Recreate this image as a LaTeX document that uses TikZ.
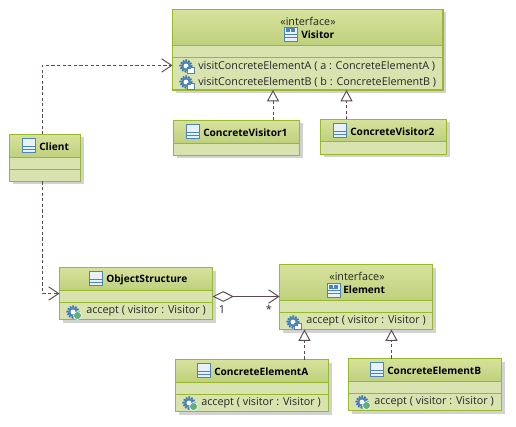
\documentclass[tikz,border=0pt]{standalone}
\usepackage{fontspec}
\setmainfont{Open Sans}
\usetikzlibrary{arrows.meta}
\definecolor{boxline}{HTML}{97B82F}
\definecolor{boxbody}{HTML}{D9E3B0}
\definecolor{headtop}{HTML}{D7E29C}
\definecolor{headbot}{HTML}{BED07C}
\definecolor{boxshadow}{HTML}{D2D2D2}
\definecolor{conn}{HTML}{5A4A55}
\definecolor{iconblue}{HTML}{4A85BE}
\definecolor{iconfill}{HTML}{E8F0FA}
\definecolor{icongreen}{HTML}{5DB07A}
\tikzset{
  x=0.75pt,y=-0.75pt,
  umlbox/.style={rectangle,draw=boxline,fill=boxbody,line width=1pt,inner sep=0pt,outer sep=0pt},
  divider/.style={draw=boxline,line width=0.8pt},
  dep/.style={draw=conn,line width=0.7pt,dash pattern=on 2.4pt off 1.8pt},
  assoc/.style={draw=conn,line width=0.8pt},
  openhead/.style={-{Straight Barb[length=7.5pt,width=10pt,line width=0.7pt,color=conn]}},
  realize/.style={dep,-{Triangle[open,length=8.5pt,width=9pt,line width=0.7pt,fill=white,color=conn]}},
  agg/.style={assoc,{Diamond[open,length=16pt,width=8pt,line width=0.7pt,fill=white,color=conn]}-{Straight Barb[length=7.5pt,width=10pt,line width=0.7pt,color=conn]}},
  stereo/.style={font=\fontsize{8.1}{10}\selectfont,inner sep=0pt,text=black!85},
  cname/.style={font=\fontsize{7.6}{10}\selectfont\bfseries,inner sep=0pt,anchor=west},
  member/.style={font=\fontsize{8.1}{10}\selectfont,inner sep=0pt,anchor=west,text=black!85},
  mult/.style={font=\fontsize{8.2}{10}\selectfont,inner sep=0pt,text=black!85},
  classicon/.pic={
    \draw[iconblue,fill=iconfill,line width=0.7pt] (0,0) rectangle (13,14);
    \draw[iconblue,line width=0.7pt] (0,8) -- (13,8) (0,11) -- (13,11);
  },
  ifaceicon/.pic={
    \draw[iconblue,fill=iconfill,line width=0.7pt] (0,0) rectangle (13,14);
    \draw[iconblue,line width=0.7pt] (0,7) -- (13,7) (0,10.5) -- (13,10.5);
    \fill[iconblue] (2,1.5) rectangle (11,5.5);
    \fill[white] (6,2.2) rectangle (7,4.8);
  },
  gear/.pic={
    \draw[iconblue!85!black,line width=1.6pt,dash pattern=on 1.2pt off 0.9pt] (0,0) circle (5.6);
    \fill[iconblue] (0,0) circle (5);
    \fill[white] (0,0) circle (2.4);
  },
  gearpub/.pic={
    \pic {gear};
    \fill[icongreen,draw=white,line width=0.4pt] (4.5,3.5) circle (4);
  },
  gearabs/.pic={
    \pic {gear};
    \draw[iconblue,fill=white,line width=0.7pt] (1.5,1) rectangle (8.5,7.5);
    \fill[iconblue] (1.5,1) rectangle (5,3.5);
  },
}
% name, x0, y0, x1, y1, y of the header's lower edge
\newcommand{\umlclass}[6]{%
  \pgfmathsetmacro{\bw}{(#4-#2)*0.75}%
  \pgfmathsetmacro{\bh}{(#5-#3)*0.75}%
  \pgfmathsetmacro{\bcx}{(#2+#4)/2}%
  \pgfmathsetmacro{\bcy}{(#3+#5)/2}%
  \fill[boxshadow] (#2+3,#3+3) rectangle (#4+3,#5+3);
  \node[umlbox,minimum width=\bw pt,minimum height=\bh pt] (#1) at (\bcx,\bcy) {};
  \shade[top color=headtop,bottom color=headbot] (#1.north west) rectangle (#1.east |- 0,#6);
  \draw[divider] (#1.west |- 0,#6) -- (#1.east |- 0,#6);
  \draw[boxline,line width=1pt] (#1.north west) rectangle (#1.south east);
}
\newcommand{\compart}[2]{\draw[divider] (#1.west |- 0,#2) -- (#1.east |- 0,#2);}
\begin{document}
\begin{tikzpicture}
\useasboundingbox (0,0) rectangle (516,427);

% Classes
\umlclass{visitor}{172.5}{9.5}{443}{90}{45.5}
\compart{visitor}{57.5}
\umlclass{cvone}{173.5}{120.5}{299.5}{155.5}{143.5}
\umlclass{cvtwo}{320.5}{119.5}{446.5}{154.5}{141.5}
\umlclass{client}{9.5}{134.5}{80.5}{181.5}{157.5}
\compart{client}{169.5}
\umlclass{objstruct}{59.5}{267.5}{212.5}{319.5}{290.5}
\compart{objstruct}{302.5}
\umlclass{element}{279.5}{264.5}{432.5}{329.5}{300.5}
\compart{element}{312.5}
\umlclass{cea}{175.5}{359.5}{328.5}{411.5}{382.5}
\compart{cea}{394.5}
\umlclass{ceb}{348.5}{358.5}{501.5}{410.5}{381.5}
\compart{ceb}{393.5}

% Icons
\pic at (284,27) {ifaceicon};
\pic at (186,124) {classicon};
\pic at (333,123) {classicon};
\pic at (22,138) {classicon};
\pic at (89,271) {classicon};
\pic at (327,283) {ifaceicon};
\pic at (197,363) {classicon};
\pic at (370,362) {classicon};
\pic at (186,66) {gearabs};
\pic at (186,82) {gearabs};
\pic at (73,312) {gearpub};
\pic at (293,322) {gearabs};
\pic at (189,403) {gearpub};
\pic at (362,402) {gearpub};

% Text
\node[stereo] (visitorst) at (308,21) {«interface»};
\node[cname] (visitorname) at (301,34.5) {Visitor};
\node[member] (visitora) at (198,66) {visitConcreteElementA ( a : ConcreteElementA )};
\node[member] (visitorb) at (198,82) {visitConcreteElementB ( b : ConcreteElementB )};
\node[cname] (cvonename) at (203,132.5) {ConcreteVisitor1};
\node[cname] (cvtwoname) at (350,131.5) {ConcreteVisitor2};
\node[cname] (clientname) at (39,146.5) {Client};
\node[cname] (osname) at (106,279.5) {ObjectStructure};
\node[member] (osop) at (86,311) {accept ( visitor : Visitor )};
\node[stereo] (elementst) at (357,276) {«interface»};
\node[cname] (elementname) at (343,289.5) {Element};
\node[member] (elementop) at (306,321) {accept ( visitor : Visitor )};
\node[cname] (ceaname) at (214,371.5) {ConcreteElementA};
\node[member] (ceaop) at (201,403) {accept ( visitor : Visitor )};
\node[cname] (cebname) at (387,370.5) {ConcreteElementB};
\node[member] (cebop) at (374,402) {accept ( visitor : Visitor )};
\node[mult] (multone) at (222,310) {1};
\node[mult] (multmany) at (269,309) {*};

% Connectors
\coordinate (bendtop) at (42,65.5);
\coordinate (bendbot) at (42.5,293.5);
\coordinate (aggy) at (0,296.5);
\coordinate (cvonex) at (273,0);
\coordinate (cvtwox) at (346.5,0);
\coordinate (ceax) at (304.5,0);
\coordinate (cebx) at (391.5,0);
\draw[dep,openhead] (client.north -| bendtop) -- (bendtop) -- (bendtop -| visitor.west);
\draw[dep,openhead] (client.south -| bendbot) -- (bendbot) -- (bendbot -| objstruct.west);
\draw[agg] (objstruct.east |- aggy) -- (element.west |- aggy);
\draw[realize] (cvone.north -| cvonex) -- (visitor.south -| cvonex);
\draw[realize] (cvtwo.north -| cvtwox) -- (visitor.south -| cvtwox);
\draw[realize] (cea.north -| ceax) -- (element.south -| ceax);
\draw[realize] (ceb.north -| cebx) -- (element.south -| cebx);
\end{tikzpicture}
\end{document}
